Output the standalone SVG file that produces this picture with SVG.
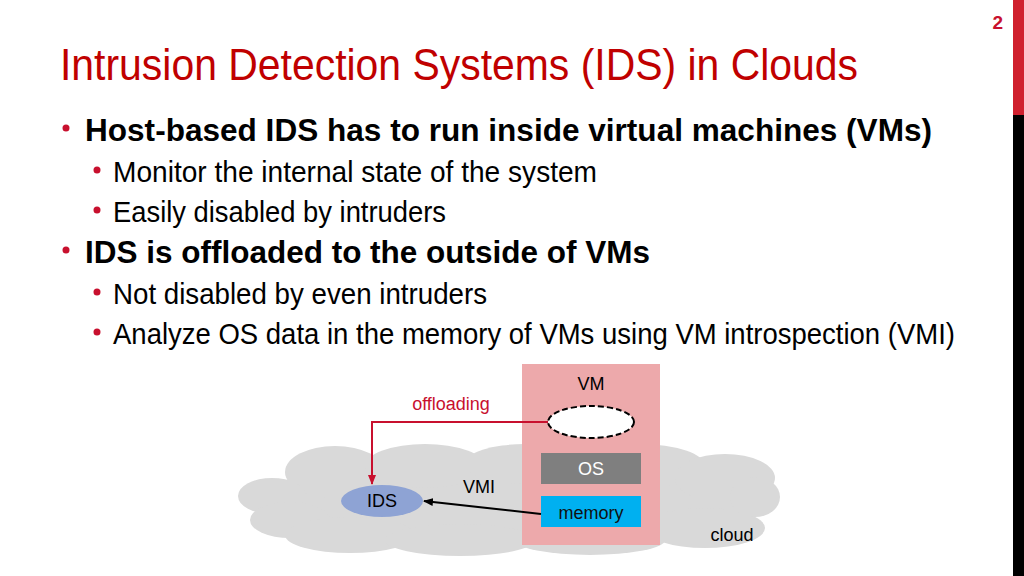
<svg xmlns="http://www.w3.org/2000/svg" width="1024" height="576" viewBox="0 0 1024 576">
<style>
.t{font-family:"Liberation Sans",Arial,sans-serif}
.h{font-family:"Liberation Sans",Arial,sans-serif;fill:#000}
.dot{fill:#C8102E}
.cl{fill:#D9D9D9}
.lbl{font-family:"Liberation Sans",Arial,sans-serif;font-size:18px;text-anchor:middle}
</style>
<defs>
<marker id="ak" markerWidth="10" markerHeight="8" refX="9" refY="4" orient="auto" markerUnits="userSpaceOnUse"><path d="M0,0 L10,4 L0,8 Z" fill="#000"/></marker>
<marker id="ar" markerWidth="10" markerHeight="8" refX="9" refY="4" orient="auto" markerUnits="userSpaceOnUse"><path d="M0,0 L10,4 L0,8 Z" fill="#C8102E"/></marker>
</defs>
<rect width="1024" height="576" fill="#fff"/>
<rect x="1013" y="0" width="11" height="115" fill="#D0202E"/>
<rect x="1013" y="115" width="11" height="461" fill="#000"/>
<text class="t" x="1003" y="29" font-size="19" font-weight="bold" fill="#C8102E" text-anchor="end">2</text>
<text class="t" x="60" y="80" font-size="44" fill="#C00000" textLength="798" lengthAdjust="spacingAndGlyphs">Intrusion Detection Systems (IDS) in Clouds</text>
<circle class="dot" cx="66" cy="128" r="3.5"/>
<text class="h" x="85" y="141" font-size="31" font-weight="bold" textLength="847" lengthAdjust="spacingAndGlyphs">Host-based IDS has to run inside virtual machines (VMs)</text>
<circle class="dot" cx="97" cy="170" r="3.5"/>
<text class="h" x="113" y="182" font-size="29" textLength="484" lengthAdjust="spacingAndGlyphs">Monitor the internal state of the system</text>
<circle class="dot" cx="97" cy="210" r="3.5"/>
<text class="h" x="113" y="222" font-size="29" textLength="333" lengthAdjust="spacingAndGlyphs">Easily disabled by intruders</text>
<circle class="dot" cx="66" cy="250" r="3.5"/>
<text class="h" x="85" y="263" font-size="31" font-weight="bold" textLength="565" lengthAdjust="spacingAndGlyphs">IDS is offloaded to the outside of VMs</text>
<circle class="dot" cx="97" cy="292" r="3.5"/>
<text class="h" x="113" y="304" font-size="29" textLength="374" lengthAdjust="spacingAndGlyphs">Not disabled by even intruders</text>
<circle class="dot" cx="97" cy="332" r="3.5"/>
<text class="h" x="113" y="344" font-size="29" textLength="842" lengthAdjust="spacingAndGlyphs">Analyze OS data in the memory of VMs using VM introspection (VMI)</text>
<g id="cloud">
<ellipse class="cl" cx="510" cy="500" rx="255" ry="42"/>
<ellipse class="cl" cx="335" cy="472" rx="50" ry="26"/>
<ellipse class="cl" cx="425" cy="466" rx="60" ry="22"/>
<ellipse class="cl" cx="525" cy="464" rx="60" ry="20"/>
<ellipse class="cl" cx="640" cy="466" rx="65" ry="22"/>
<ellipse class="cl" cx="725" cy="478" rx="50" ry="24"/>
<ellipse class="cl" cx="272" cy="496" rx="34" ry="18"/>
<ellipse class="cl" cx="290" cy="520" rx="40" ry="18"/>
<ellipse class="cl" cx="350" cy="535" rx="65" ry="18"/>
<ellipse class="cl" cx="460" cy="540" rx="75" ry="16"/>
<ellipse class="cl" cx="590" cy="540" rx="75" ry="15"/>
<ellipse class="cl" cx="705" cy="528" rx="60" ry="20"/>
<ellipse class="cl" cx="755" cy="497" rx="25" ry="20"/>
<text class="lbl" x="732" y="541" fill="#000">cloud</text>
</g>
<g id="vm">
<rect x="522" y="364" width="138" height="181" fill="#EDA9AB"/>
<text class="lbl" x="591" y="390" fill="#000">VM</text>
</g>
<g id="ids-inside">
<ellipse cx="591" cy="422" rx="43" ry="16" fill="#fff" stroke="#000" stroke-width="2" stroke-dasharray="6,3"/>
</g>
<g id="os">
<rect x="541" y="453" width="100" height="31" fill="#7F7F7F"/>
<text class="lbl" x="591" y="475" fill="#fff">OS</text>
</g>
<g id="memory">
<rect x="541" y="496" width="100" height="31" fill="#00B0F0"/>
<text class="lbl" x="591" y="519" fill="#111">memory</text>
</g>
<g id="ids">
<ellipse cx="382" cy="501" rx="41" ry="16" fill="#8EA3D4"/>
<text class="lbl" x="382" y="507" fill="#000">IDS</text>
</g>
<g id="connectors">
<path d="M548,422 H372 V484" fill="none" stroke="#C8102E" stroke-width="2" marker-end="url(#ar)"/>
<text class="lbl" x="451" y="410" fill="#C8102E">offloading</text>
<path d="M541,514 L424,501" fill="none" stroke="#000" stroke-width="2" marker-end="url(#ak)"/>
<text class="lbl" x="479" y="493" fill="#000">VMI</text>
</g>
</svg>
